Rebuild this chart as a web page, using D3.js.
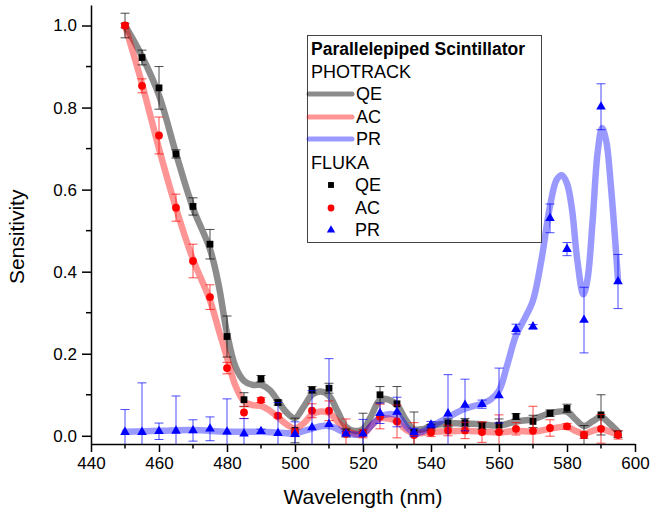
<!DOCTYPE html>
<html>
<head>
<meta charset="utf-8">
<script src="https://cdn.jsdelivr.net/npm/d3@7"></script>
<style>
  body { margin: 0; background: #fff; }
  svg { display: block; font-family: "Liberation Sans", Arial, sans-serif; }
</style>
</head>
<body>
<div id="chart"></div>
<script>
// FLUKA points (every 5 nm)
const wavelengths = [450,455,460,465,470,475,480,485,490,495,500,505,510,515,520,525,530,535,540,545,550,555,560,565,570,575,580,585,590,595];
const flukaQE = [1.0,0.922,0.848,0.687,0.559,0.467,0.242,0.088,0.139,0.081,0.013,0.112,0.116,0.007,0.007,0.100,0.078,0.008,0.020,0.031,0.032,0.024,0.026,0.047,0.035,0.055,0.067,0.001,0.051,0.004];
const flukaQEErr = [0.03,0.018,0.052,0.01,0.021,0.036,0.05,0.017,0.008,0.006,0.03,0.008,0.012,0.01,0.048,0.02,0.042,0.05,0.008,0.01,0.01,0.008,0.015,0.007,0.015,0.008,0.01,0.024,0.049,0.008];
const flukaAC = [1.0,0.853,0.732,0.556,0.426,0.338,0.165,0.057,0.087,0.049,0.008,0.061,0.061,0.005,0.005,0.047,0.035,0.002,0.008,0.013,0.013,0.009,0.009,0.017,0.012,0.019,0.023,0.002,0.017,0.002];
const flukaACErr = [0.005,0.017,0.045,0.033,0.041,0.03,0.014,0.015,0.006,0.005,0.01,0.017,0.024,0.036,0.01,0.03,0.04,0.03,0.01,0.013,0.02,0.025,0.042,0.015,0.06,0.02,0.007,0.008,0.035,0.01];
const flukaPR = [0.009,0.009,0.011,0.012,0.013,0.017,0.010,0.005,0.011,0.006,0.004,0.020,0.028,0.005,0.005,0.055,0.058,0.008,0.027,0.054,0.075,0.077,0.098,0.260,0.266,0.530,0.455,0.282,0.802,0.376];
const flukaPRErr = [0.055,0.12,0.02,0.085,0.026,0.029,0.08,0.037,0.005,0.075,0.03,0.09,0.16,0.005,0.035,0.025,0.036,0.01,0.008,0.095,0.063,0.01,0.067,0.012,0.005,0.035,0.016,0.08,0.056,0.066];

// PHOTRACK curves
const photQEWl = [450,455,460,465,470,475,477.5,480,482.5,485,487.5,490,492.5,495,497.5,500,502.5,505,507.5,510,512.5,515,517.5,520,522.5,525,527.5,530,532.5,535,537.5,540,545,550,555,560,565,570,575,580,582.5,585,587.5,590,592.5,595];
const photQE = [1.0,0.925,0.83,0.688,0.555,0.455,0.37,0.25,0.168,0.134,0.124,0.124,0.112,0.085,0.057,0.043,0.07,0.1,0.108,0.098,0.06,0.022,0.012,0.016,0.05,0.088,0.088,0.075,0.04,0.016,0.016,0.024,0.03,0.03,0.028,0.025,0.035,0.04,0.055,0.059,0.04,0.024,0.035,0.046,0.03,0.01];
const photACWl = [450,455,460,465,470,475,477.5,480,482.5,485,487.5,490,492.5,495,497.5,500,502.5,505,507.5,510,512.5,515,517.5,520,522.5,525,527.5,530,532.5,535,540,545,550,555,560,565,570,575,580,582.5,585,587.5,590,592.5,595];
const photAC = [1.0,0.858,0.70,0.555,0.43,0.33,0.26,0.19,0.122,0.084,0.075,0.073,0.062,0.045,0.028,0.018,0.03,0.052,0.059,0.056,0.035,0.015,0.005,0.004,0.025,0.042,0.042,0.035,0.016,0.006,0.009,0.011,0.012,0.01,0.008,0.012,0.01,0.017,0.022,0.012,0.005,0.012,0.017,0.01,0.003];
const photPRWl = [450,460,470,480,490,495,500,504,508,511,514,517,520,523,526,530,533,535,537.5,540,545,550,555,557.5,560,562.5,565,567.5,570,572.5,575,577,578.5,580,581.5,583,584.8,586,587.5,589,590.3,591.5,593,595];
const photPR = [0.01,0.012,0.014,0.01,0.01,0.008,0.006,0.015,0.024,0.022,0.01,0.003,0.005,0.03,0.05,0.05,0.02,0.008,0.01,0.022,0.045,0.066,0.078,0.088,0.11,0.175,0.245,0.285,0.33,0.43,0.56,0.625,0.635,0.615,0.55,0.43,0.345,0.38,0.52,0.69,0.75,0.72,0.6,0.38];

const xTicks = [440,460,480,500,520,540,560,580,600];
const yTicks = [0.0,0.2,0.4,0.6,0.8,1.0];

const width = 650;
const height = 517;
const marginLeft = 91;
const marginRight = 15;
const marginTop = 5;
const marginBottom = 73;

const x = d3.scaleLinear().domain([440, 600]).range([marginLeft, width - marginRight]);
const y = d3.scaleLinear().domain([-0.02, 1.05]).range([height - marginBottom, marginTop]);

const svg = d3.select("#chart").append("svg")
    .attr("width", width)
    .attr("height", height)
    .attr("viewBox", [0, 0, width, height]);

svg.append("defs").append("clipPath")
    .attr("id", "plot-clip")
  .append("rect")
    .attr("x", marginLeft)
    .attr("y", marginTop)
    .attr("width", width - marginRight - marginLeft)
    .attr("height", height - marginBottom - marginTop);

const plot = svg.append("g").attr("clip-path", "url(#plot-clip)");

// PHOTRACK lines
const line = d3.line()
    .curve(d3.curveCatmullRom)
    .x(d => x(d[0]))
    .y(d => y(d[1]));

const curves = [
  {wl: photQEWl, v: photQE, color: "#000000", op: 0.45},
  {wl: photACWl, v: photAC, color: "#ff0000", op: 0.42},
  {wl: photPRWl, v: photPR, color: "#0000ff", op: 0.4}
];
curves.forEach(c => {
  plot.append("path")
      .datum(c.wl.map((w, i) => [w, c.v[i]]))
      .attr("fill", "none")
      .attr("stroke", c.color)
      .attr("stroke-opacity", c.op)
      .attr("stroke-width", 6.5)
      .attr("stroke-linejoin", "round")
      .attr("stroke-linecap", "round")
      .attr("d", line);
});

// FLUKA points with error bars
const series = [
  {v: flukaQE, err: flukaQEErr, color: "#000000", symbol: d3.symbolSquare, size: 46},
  {v: flukaAC, err: flukaACErr, color: "#ff0000", symbol: d3.symbolCircle, size: 48},
  {v: flukaPR, err: flukaPRErr, color: "#0000ff", symbol: d3.symbolTriangle, size: 40}
];
const cap = 4.5;
series.forEach(s => {
  const data = wavelengths.map((w, i) => ({w, v: s.v[i], e: s.err[i]}));
  const eb = plot.append("g")
      .attr("stroke", s.color)
      .attr("stroke-opacity", 0.7)
      .attr("stroke-width", 1)
    .selectAll("g")
    .data(data)
    .join("g");
  eb.append("line")
      .attr("x1", d => x(d.w)).attr("x2", d => x(d.w))
      .attr("y1", d => y(d.v - d.e)).attr("y2", d => y(d.v + d.e));
  eb.append("line")
      .attr("x1", d => x(d.w) - cap).attr("x2", d => x(d.w) + cap)
      .attr("y1", d => y(d.v + d.e)).attr("y2", d => y(d.v + d.e));
  eb.append("line")
      .attr("x1", d => x(d.w) - cap).attr("x2", d => x(d.w) + cap)
      .attr("y1", d => y(d.v - d.e)).attr("y2", d => y(d.v - d.e));
  plot.append("g")
      .attr("fill", s.color)
    .selectAll("path")
    .data(data)
    .join("path")
      .attr("transform", d => `translate(${x(d.w)},${y(d.v)})`)
      .attr("d", d3.symbol(s.symbol, s.size));
});

// axes
const xAxis = svg.append("g")
    .attr("transform", `translate(0,${height - marginBottom})`)
    .call(d3.axisBottom(x).tickValues(xTicks).tickSize(8).tickSizeOuter(0).tickPadding(5))
    .call(g => g.selectAll("text").attr("font-size", 17).attr("font-family", "Liberation Sans, Arial, sans-serif").attr("fill", "#000"))
    .call(g => g.selectAll("line, path").attr("stroke", "#000").attr("stroke-width", 1.5));
xAxis.selectAll(".minor")
    .data(d3.range(450, 600, 20))
    .join("line")
    .attr("class", "minor")
    .attr("x1", d => x(d)).attr("x2", d => x(d))
    .attr("y1", 0).attr("y2", 4.5)
    .attr("stroke", "#000").attr("stroke-width", 1.5);

const yAxis = svg.append("g")
    .attr("transform", `translate(${marginLeft},0)`)
    .call(d3.axisLeft(y).tickValues(yTicks).tickFormat(d3.format(".1f")).tickSize(9).tickSizeOuter(0).tickPadding(5))
    .call(g => g.selectAll("text").attr("font-size", 17).attr("font-family", "Liberation Sans, Arial, sans-serif").attr("fill", "#000"))
    .call(g => g.selectAll("line, path").attr("stroke", "#000").attr("stroke-width", 1.5));
yAxis.selectAll(".minor")
    .data(d3.range(0.1, 1.0, 0.2))
    .join("line")
    .attr("class", "minor")
    .attr("x1", 0).attr("x2", -5)
    .attr("y1", d => y(d)).attr("y2", d => y(d))
    .attr("stroke", "#000").attr("stroke-width", 1.5);

svg.append("text")
    .attr("x", (x(440) + x(600)) / 2)
    .attr("y", 504)
    .attr("text-anchor", "middle")
    .attr("font-size", 21)
    .text("Wavelength (nm)");

svg.append("text")
    .attr("transform", `translate(24,${y(0.485)}) rotate(-90)`)
    .attr("text-anchor", "middle")
    .attr("font-size", 21)
    .text("Sensitivity");

// legend
const legend = svg.append("g");
legend.append("rect")
    .attr("x", 307.5).attr("y", 35.5)
    .attr("width", 234).attr("height", 207)
    .attr("fill", "#fff")
    .attr("stroke", "#444")
    .attr("stroke-width", 1);
legend.append("text")
    .attr("x", 311).attr("y", 55)
    .attr("font-size", 17.5)
    .attr("font-weight", "bold")
    .text("Parallelepiped Scintillator");

const rowY = [72, 94, 117, 139, 163, 185, 208, 230];
const legendText = (txt, lx, ly) => legend.append("text")
    .attr("x", lx).attr("y", ly)
    .attr("dy", "0.35em")
    .attr("font-size", 18)
    .text(txt);

legendText("PHOTRACK", 311, rowY[0]);
const names = ["QE", "AC", "PR"];
curves.forEach((c, i) => {
  legend.append("line")
      .attr("x1", 309).attr("x2", 352)
      .attr("y1", rowY[i + 1]).attr("y2", rowY[i + 1])
      .attr("stroke", c.color)
      .attr("stroke-opacity", c.op)
      .attr("stroke-width", 5)
      .attr("stroke-linecap", "round");
  legendText(names[i], 356, rowY[i + 1]);
});
legendText("FLUKA", 311, rowY[4]);
series.forEach((s, i) => {
  legend.append("path")
      .attr("transform", `translate(331,${rowY[i + 5]})`)
      .attr("fill", s.color)
      .attr("d", d3.symbol(s.symbol, s.size * 0.75));
  legendText(names[i], 355, rowY[i + 5]);
});
</script>
</body>
</html>
